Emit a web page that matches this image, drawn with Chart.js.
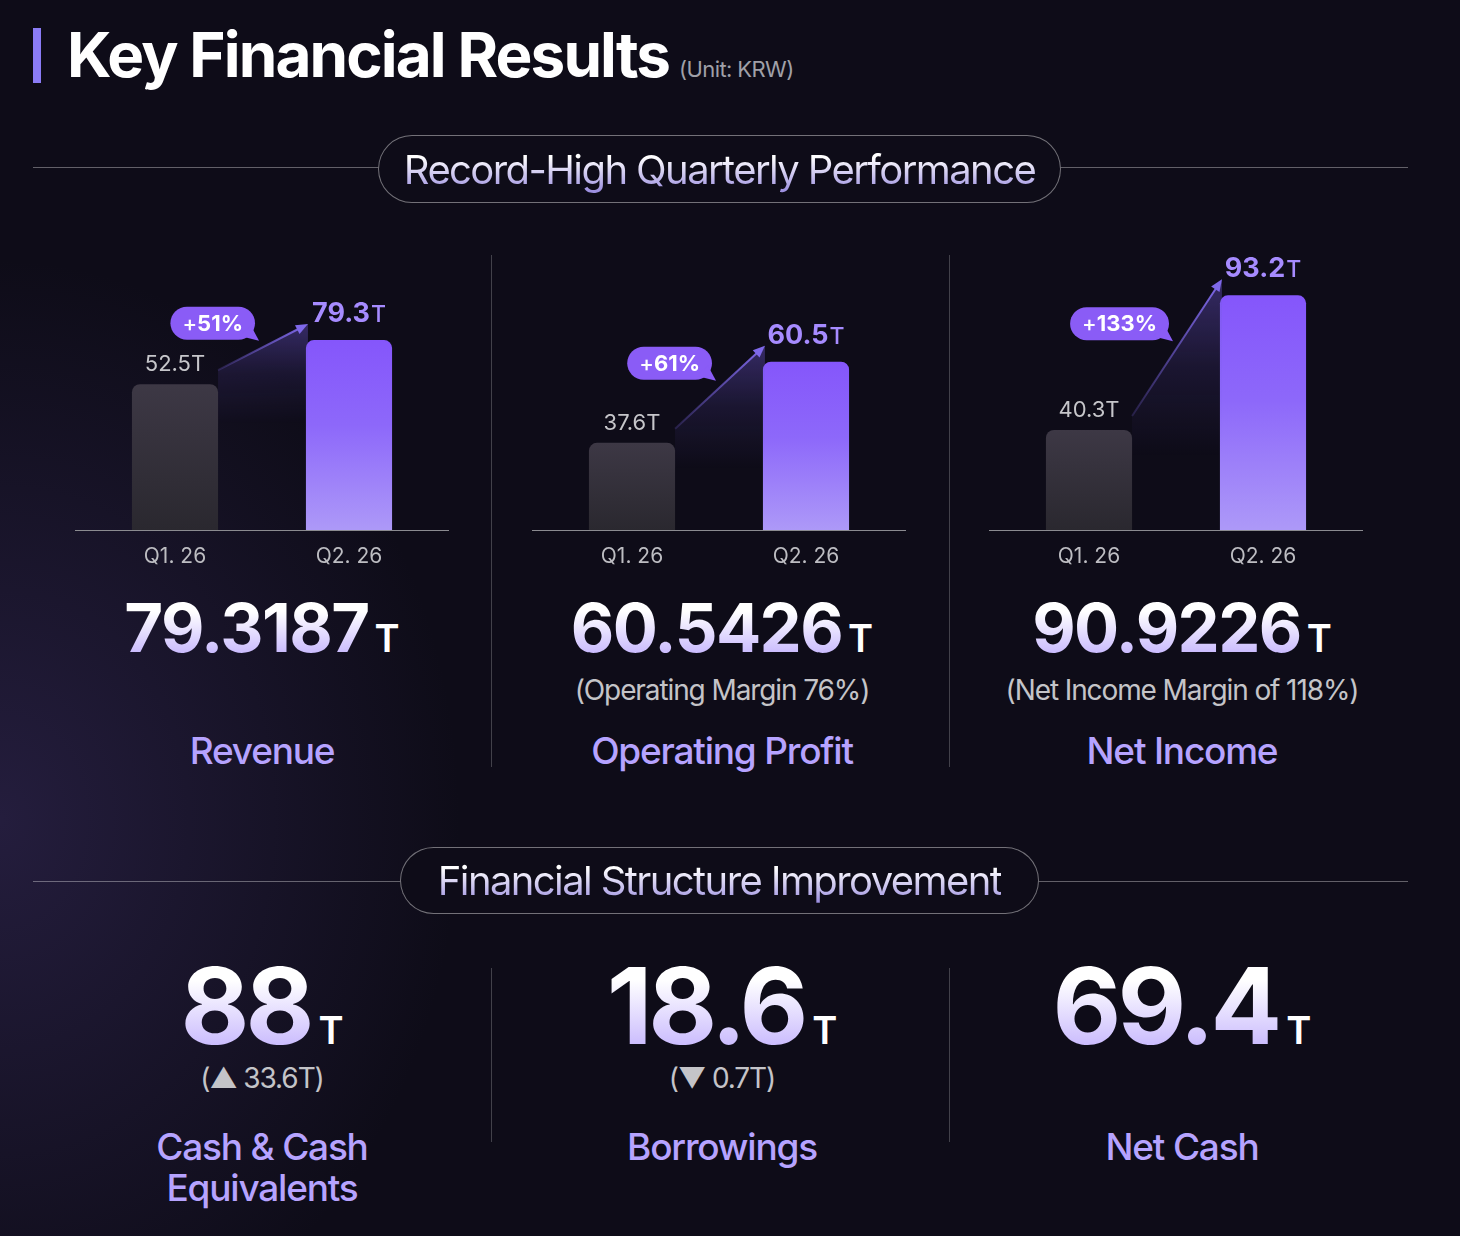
<!DOCTYPE html>
<html>
<head>
<meta charset="utf-8">
<script src="https://cdn.jsdelivr.net/npm/chart.js@4"></script>
<style>
  html, body { margin: 0; padding: 0; }
  body {
    width: 1460px; height: 1236px; position: relative; overflow: hidden;
    font-family: 'Inter', 'Noto Sans', sans-serif;
    background:
      radial-gradient(ellipse 460px 560px at 0px 820px, rgba(58, 46, 98, 0.5), rgba(14, 12, 24, 0) 100%),
      #0e0c18;
  }
  .abs { position: absolute; }
  .bar-mark { left: 33px; top: 28px; width: 8px; height: 55px; background: #8b7cf6; }
  .title { left: 67px; top: 20px; font-size: 62px; line-height: 70px; font-weight: 700; color: #fff; letter-spacing: -1.9px; white-space: nowrap; }
  .title small { font-size: 22px; font-weight: 400; color: #a0a0a8; letter-spacing: -0.6px; margin-left: 10px; }
  .rule { height: 1px; background: rgba(255,255,255,0.35); }
  .pill {
    border: 1px solid rgba(255,255,255,0.42); border-radius: 36px; box-sizing: border-box;
    display: flex; align-items: center; justify-content: center; background: #0e0c18;
  }
  .pill span {
    font-size: 40px; font-weight: 400; letter-spacing: -1.6px; white-space: nowrap;
    background: linear-gradient(180deg, #ffffff 25%, #9c8fe0 95%);
    -webkit-background-clip: text; background-clip: text; color: transparent;
  }
  .vline { width: 1px; background: rgba(255,255,255,0.22); }
  .center { text-align: center; white-space: nowrap; transform: translateX(-50%); }
  .big { font-weight: 700; color: #fff; }
  .grad {
    background: linear-gradient(180deg, #ffffff 30%, #b7a3fd 100%);
    -webkit-background-clip: text; background-clip: text; color: transparent;
  }
  .big1 { font-size: 67px; line-height: 67px; letter-spacing: -1.6px; }
  .big2 { font-size: 106px; line-height: 106px; letter-spacing: -4px; }
  .unit1 { font-size: 38px; font-weight: 600; color: #fff; margin-left: 6px; letter-spacing: 0; }
  .unit2 { font-size: 38px; font-weight: 600; color: #fff; margin-left: 8px; letter-spacing: 0; }
  .sub { font-size: 28px; line-height: 28px; color: #c4c4c8; letter-spacing: -1.1px; }
  .name { font-size: 37px; line-height: 41px; color: #b6a3ff; letter-spacing: -1.2px; font-weight: 500; }
  canvas { position: absolute; }
</style>
</head>
<body>
<div class="abs bar-mark"></div>
<div class="abs title">Key Financial Results<small>(Unit: KRW)</small></div>

<div class="abs rule" style="left:33px; top:167px; width:1375px;"></div>
<div class="abs pill" style="left:378px; top:135px; width:683px; height:68px;"><span>Record-High Quarterly Performance</span></div>

<div class="abs vline" style="left:491px; top:255px; height:512px;"></div>
<div class="abs vline" style="left:949px; top:255px; height:512px;"></div>

<canvas id="chartRevenue" width="374" height="350" style="left:75px; top:230px;"></canvas>
<canvas id="chartOperating" width="374" height="350" style="left:532px; top:230px;"></canvas>
<canvas id="chartNet" width="374" height="350" style="left:989px; top:230px;"></canvas>

<div class="abs center big big1" style="left:262px; top:594px;"><span class="grad">79.3187</span><span class="unit1">T</span></div>
<div class="abs center big big1" style="left:722px; top:594px;"><span class="grad">60.5426</span><span class="unit1">T</span></div>
<div class="abs center big big1" style="left:1182px; top:594px;"><span class="grad">90.9226</span><span class="unit1">T</span></div>

<div class="abs center sub" style="left:722px; top:676px;">(Operating Margin 76%)</div>
<div class="abs center sub" style="left:1182px; top:676px;">(Net Income Margin of 118%)</div>

<div class="abs center name" style="left:262px; top:730px;">Revenue</div>
<div class="abs center name" style="left:722px; top:730px;">Operating Profit</div>
<div class="abs center name" style="left:1182px; top:730px;">Net Income</div>

<div class="abs rule" style="left:33px; top:881px; width:1375px;"></div>
<div class="abs pill" style="left:400px; top:847px; width:639px; height:67px;"><span>Financial Structure Improvement</span></div>

<div class="abs vline" style="left:491px; top:968px; height:174px;"></div>
<div class="abs vline" style="left:949px; top:968px; height:174px;"></div>

<div class="abs center big big2" style="left:262px; top:953px;"><span class="grad">88</span><span class="unit2">T</span></div>
<div class="abs center big big2" style="left:722px; top:953px;"><span class="grad">18.6</span><span class="unit2">T</span></div>
<div class="abs center big big2" style="left:1182px; top:953px;"><span class="grad">69.4</span><span class="unit2">T</span></div>

<div class="abs center sub" style="left:262px; top:1064px;">(▲ 33.6T)</div>
<div class="abs center sub" style="left:722px; top:1064px;">(▼ 0.7T)</div>

<div class="abs center name" style="left:262px; top:1126px;">Cash &amp; Cash<br>Equivalents</div>
<div class="abs center name" style="left:722px; top:1126px;">Borrowings</div>
<div class="abs center name" style="left:1182px; top:1126px;">Net Cash</div>

<script>
// Quarterly values (trillion KRW)
const quarters = ['Q1. 26', 'Q2. 26'];
const revenue = [52.5, 79.3];
const operatingProfit = [37.6, 60.5];
const netIncome = [40.3, 93.2];
const growth = ['+51%', '+61%', '+133%'];

// each small chart has its own value window
const axisMin = [-36, 13, 1];
const axisMax = [134, 92, 111];

const FONT = "'Inter', 'Noto Sans', sans-serif";

function barFill(ctx) {
  const chart = ctx.chart;
  if (!chart.chartArea) return ctx.dataIndex === 0 ? '#34303a' : '#8a62fb';
  const yScale = chart.scales.y;
  const top = yScale.getPixelForValue(ctx.raw);
  const bottom = chart.chartArea.bottom;
  const g = chart.ctx.createLinearGradient(0, top, 0, bottom);
  if (ctx.dataIndex === 0) {
    g.addColorStop(0, '#3d3845');
    g.addColorStop(1, '#2a282f');
  } else {
    g.addColorStop(0, '#8556fb');
    g.addColorStop(0.45, '#8d68fa');
    g.addColorStop(1, '#ad99f8');
  }
  return g;
}

// arrow, shaded wedge, value labels and growth bubble
const growthPlugin = {
  id: 'growth',
  afterDatasetsDraw(chart, args, opts) {
    const ctx = chart.ctx;
    const bars = chart.getDatasetMeta(0).data;
    const b0 = bars[0], b1 = bars[1];
    const values = chart.data.datasets[0].data;
    const area = chart.chartArea;

    // baseline
    ctx.save();
    ctx.strokeStyle = '#8b8b90';
    ctx.lineWidth = 1;
    ctx.beginPath();
    ctx.moveTo(0, area.bottom + 0.5);
    ctx.lineTo(chart.width, area.bottom + 0.5);
    ctx.stroke();

    const x1 = b0.x + b0.width / 2, y1 = b0.y - 14;
    const x2 = b1.x - b1.width / 2 + 2, y2 = b1.y - 16;

    // wedge under the arrow, fading out quickly
    const wg = ctx.createLinearGradient(0, y2, 0, Math.max(y1, y2 + 60) + 40);
    wg.addColorStop(0, 'rgba(118, 92, 226, 0.38)');
    wg.addColorStop(0.5, 'rgba(118, 92, 226, 0.12)');
    wg.addColorStop(1, 'rgba(118, 92, 226, 0)');
    ctx.fillStyle = wg;
    ctx.beginPath();
    ctx.moveTo(x1, y1);
    ctx.lineTo(x2, y2);
    ctx.lineTo(x2, area.bottom);
    ctx.lineTo(x1, area.bottom);
    ctx.closePath();
    ctx.fill();

    // arrow line
    const ang = Math.atan2(y2 - y1, x2 - x1);
    const lg = ctx.createLinearGradient(x1, y1, x2, y2);
    lg.addColorStop(0, 'rgba(125, 103, 232, 0.2)');
    lg.addColorStop(1, '#7f69ea');
    ctx.strokeStyle = lg;
    ctx.lineWidth = 2;
    ctx.beginPath();
    ctx.moveTo(x1, y1);
    ctx.lineTo(x2 - Math.cos(ang) * 8, y2 - Math.sin(ang) * 8);
    ctx.stroke();
    ctx.fillStyle = '#7f69ea';
    ctx.beginPath();
    ctx.moveTo(x2, y2);
    ctx.lineTo(x2 - Math.cos(ang) * 12 + Math.sin(ang) * 5, y2 - Math.sin(ang) * 12 - Math.cos(ang) * 5);
    ctx.lineTo(x2 - Math.cos(ang) * 12 - Math.sin(ang) * 5, y2 - Math.sin(ang) * 12 + Math.cos(ang) * 5);
    ctx.closePath();
    ctx.fill();

    // value labels
    ctx.textBaseline = 'alphabetic';
    ctx.textAlign = 'center';
    ctx.fillStyle = '#c6c6ca';
    ctx.font = '400 22px ' + FONT;
    ctx.fillText(values[0].toFixed(1) + 'T', b0.x, b0.y - 13);

    const num = values[1].toFixed(1);
    ctx.font = '700 27px ' + FONT;
    const wNum = ctx.measureText(num).width;
    ctx.font = '500 23px ' + FONT;
    const wT = ctx.measureText('T').width;
    let sx = b1.x - (wNum + wT + 1) / 2;
    ctx.textAlign = 'left';
    ctx.fillStyle = '#a68bff';
    ctx.font = '700 27px ' + FONT;
    ctx.fillText(num, sx, b1.y - 18);
    ctx.font = '500 23px ' + FONT;
    ctx.fillText('T', sx + wNum + 1, b1.y - 18);

    // growth bubble
    const label = opts.text;
    const plus = label.slice(0, 1), rest = label.slice(1);
    ctx.font = '500 22px ' + FONT;
    const wp = ctx.measureText(plus).width;
    ctx.font = '700 22px ' + FONT;
    const wr = ctx.measureText(rest).width;
    const w = wp + wr + 24, h = 33;
    const right = (x1 + x2) / 2 - 8;
    const cy = (y1 + y2) / 2 - 24;
    const left = right - w, top = cy - h / 2, bottom = cy + h / 2;
    ctx.fillStyle = '#8a5cf6';
    ctx.beginPath();
    ctx.roundRect(left, top, w, h, h / 2);
    ctx.fill();
    ctx.beginPath();
    ctx.moveTo(right - 16, bottom - 4);
    ctx.lineTo(right + 4, bottom + 1);
    ctx.lineTo(right - 4, bottom - 14);
    ctx.closePath();
    ctx.fill();
    ctx.fillStyle = '#ffffff';
    ctx.textBaseline = 'middle';
    ctx.font = '500 22px ' + FONT;
    ctx.fillText(plus, left + 12, cy + 1);
    ctx.font = '700 22px ' + FONT;
    ctx.fillText(rest, left + 12 + wp, cy + 1);
    ctx.restore();
  }
};

function makeChart(id, values, i) {
  return new Chart(document.getElementById(id), {
    type: 'bar',
    data: {
      labels: quarters,
      datasets: [{
        data: values,
        base: axisMin[i],
        backgroundColor: barFill,
        borderRadius: { topLeft: 8, topRight: 8, bottomLeft: 0, bottomRight: 0 },
        borderSkipped: 'bottom',
        categoryPercentage: 1,
        barPercentage: 0.495
      }]
    },
    options: {
      responsive: false,
      animation: false,
      layout: { padding: { top: 20, left: 13, right: 13, bottom: 0 } },
      plugins: {
        legend: { display: false },
        tooltip: { enabled: false },
        growth: { text: growth[i] }
      },
      scales: {
        x: {
          grid: { display: false },
          border: { display: false },
          ticks: { color: '#bdbdc2', font: { family: FONT, size: 21 }, padding: 6 },
          afterFit: axis => { axis.height = 50; }
        },
        y: { display: false, min: axisMin[i], max: axisMax[i] }
      }
    },
    plugins: [growthPlugin]
  });
}

makeChart('chartRevenue', revenue, 0);
makeChart('chartOperating', operatingProfit, 1);
makeChart('chartNet', netIncome, 2);
</script>
</body>
</html>
